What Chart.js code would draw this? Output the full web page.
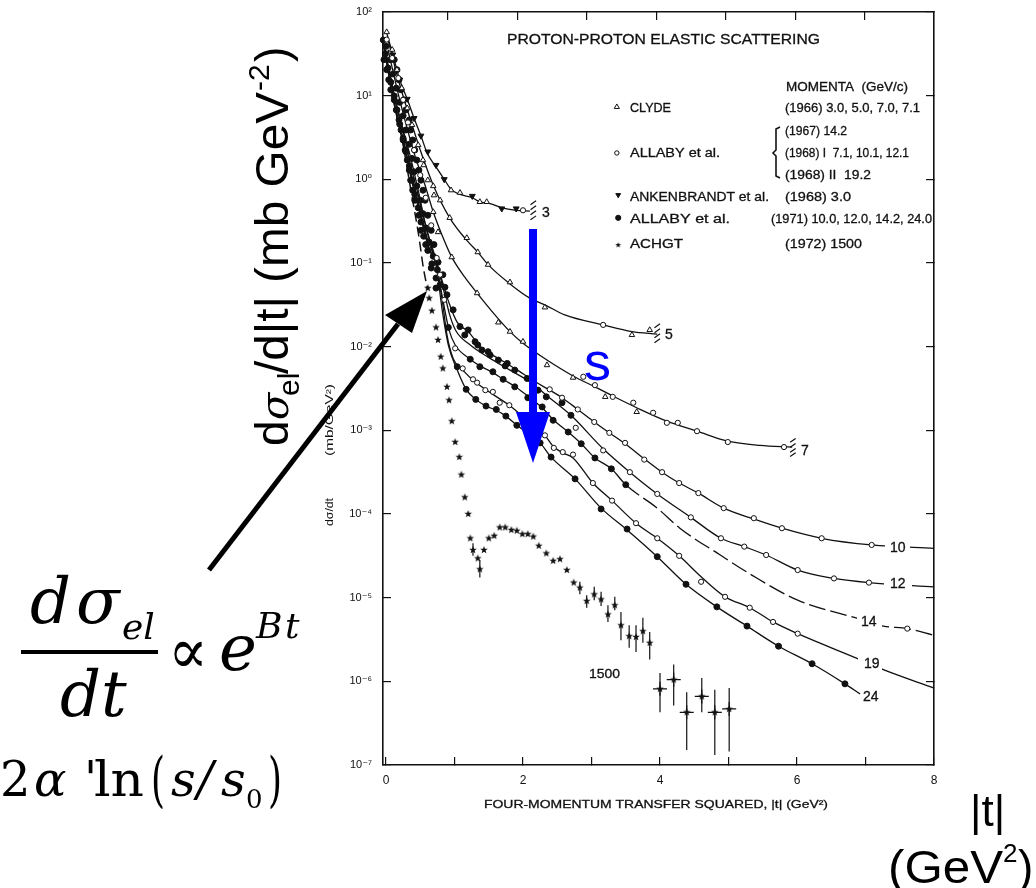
<!-- proton-proton elastic scattering, d-sigma/dt vs |t| -->
<!DOCTYPE html>
<html>
<head>
<meta charset="utf-8">
<style>
  html, body { margin: 0; padding: 0; background: #fff; }
  canvas { display: block; }
</style>
</head>
<body>
<canvas id="chart" width="1036" height="888"></canvas>
<script src="https://cdn.jsdelivr.net/npm/chart.js@4"></script>
<script>
// y values are read as log10(dsigma/dt) off the picture, t in GeV^2
const yDecades = [2, 1, 0, -1, -2, -3, -4, -5, -6, -7];
const xTicks   = [0, 1, 2, 3, 4, 5, 6, 7, 8];
const topTicks = [1, 2, 3, 4, 5, 6, 7];

const curve3T = [0.01,0.10,0.20,0.31,0.41,0.51,0.60,0.72,0.85,0.95,1.08,1.26,1.37,1.52,1.69,1.90,2.10];
const curve3L = [1.75,1.49,1.19,0.96,0.73,0.52,0.315,0.16,0.00,-0.12,-0.18,-0.22,-0.27,-0.29,-0.34,-0.37,-0.38];

const curve5T = [0.03,0.18,0.35,0.50,0.69,0.93,1.18,1.34,1.49,1.81,2.10,2.32,2.61,3.17,3.59,3.96];
const curve5L = [1.665,1.19,0.73,0.35,-0.07,-0.46,-0.73,-0.87,-1.02,-1.25,-1.42,-1.50,-1.62,-1.74,-1.82,-1.85];

const curve7T = [0.03,0.20,0.42,0.57,0.69,0.82,0.96,1.15,1.33,1.59,1.81,2.00,2.35,2.73,3.05,3.31,3.66,4.10,4.54,4.99,5.46,5.93];
const curve7L = [1.55,0.95,0.29,-0.07,-0.39,-0.67,-0.93,-1.17,-1.36,-1.62,-1.82,-1.96,-2.16,-2.35,-2.48,-2.59,-2.73,-2.89,-3.01,-3.13,-3.18,-3.20];

const curve10T = [-0.04,0.09,0.23,0.35,0.47,0.58,0.73,0.83,0.93,1.04,1.20,1.40,1.64,1.88,2.18,2.39,2.57,2.80,3.04,3.26,3.49,3.77,4.03,4.28,4.56,4.93,5.37,5.78,6.36,7.09,8.00];
const curve10L = [1.64,1.13,0.65,0.29,-0.13,-0.55,-0.96,-1.24,-1.50,-1.71,-1.82,-2.02,-2.14,-2.26,-2.42,-2.52,-2.61,-2.75,-2.90,-3.03,-3.16,-3.34,-3.50,-3.63,-3.75,-3.93,-4.06,-4.17,-4.29,-4.37,-4.41];

const curve12T = [-0.03,0.10,0.25,0.36,0.48,0.60,0.73,0.85,0.93,1.02,1.23,1.52,1.81,2.10,2.34,2.70,3.17,3.56,3.96,4.45,4.89,5.23,5.55,6.01,6.54,7.05,8.00];
const curve12L = [1.59,1.04,0.57,0.17,-0.22,-0.63,-0.99,-1.35,-1.62,-1.81,-1.98,-2.14,-2.28,-2.42,-2.58,-2.82,-3.22,-3.50,-3.76,-4.04,-4.29,-4.39,-4.49,-4.67,-4.77,-4.82,-4.87];

const curve14T = [-0.03,0.10,0.25,0.36,0.48,0.60,0.73,0.83,0.92,1.01,1.23,1.37,1.56,1.71,1.91,2.10,2.28,2.45,2.66,2.85,3.05,3.29,3.50,3.96,4.29,4.88,5.34,6.01,6.85,7.26,7.61,8.00];
const curve14L = [1.57,0.98,0.49,0.09,-0.31,-0.70,-1.00,-1.44,-1.80,-1.98,-2.15,-2.23,-2.31,-2.39,-2.49,-2.61,-2.73,-2.88,-3.02,-3.16,-3.33,-3.46,-3.65,-3.93,-4.17,-4.49,-4.73,-5.03,-5.24,-5.34,-5.37,-5.45];

const curve19T = [-0.01,0.12,0.26,0.38,0.50,0.61,0.73,0.82,0.89,0.98,1.12,1.30,1.56,1.80,2.06,2.32,2.44,2.58,2.73,3.02,3.30,3.65,3.96,4.28,4.60,4.95,5.31,5.65,6.01,6.92,7.26,8.00];
const curve19L = [1.55,0.92,0.41,0.02,-0.39,-0.78,-1.01,-1.44,-1.86,-2.14,-2.28,-2.42,-2.57,-2.70,-2.88,-3.06,-3.19,-3.27,-3.33,-3.63,-3.84,-4.11,-4.29,-4.50,-4.75,-4.99,-5.12,-5.29,-5.43,-5.74,-5.86,-6.08];

const curve24T = [-0.01,0.13,0.28,0.39,0.51,0.63,0.73,0.82,0.91,1.04,1.17,1.31,1.46,1.61,1.75,1.91,2.25,2.41,2.76,3.14,3.52,3.96,4.38,4.83,5.27,5.73,6.22,6.70,6.92];
const curve24L = [1.49,0.85,0.33,-0.07,-0.46,-0.84,-1.02,-1.56,-1.98,-2.28,-2.51,-2.63,-2.71,-2.76,-2.83,-2.94,-3.15,-3.32,-3.58,-3.93,-4.19,-4.51,-4.84,-5.11,-5.34,-5.58,-5.79,-6.03,-6.15];

const dashed1500T = [-0.01,0.13,0.25,0.38,0.47,0.55,0.61];
const dashed1500L = [1.55,0.89,0.41,-0.21,-0.63,-1.08,-1.32];

// markers by experiment
const clydeT = [0.01,0.09,0.16,0.23,0.31,0.38,0.47,0.55,0.61,0.70,0.95,1.08,1.37,1.47,0.54,0.69,0.79,0.93,1.18,1.34,1.49,1.81,2.32,3.59,3.85,0.69,0.76,0.96,1.33,1.64,1.81,2.00,2.35,2.73,3.66,3.20];
const clydeL = [1.76,1.55,1.31,1.09,0.85,0.65,0.41,0.17,-0.01,-0.19,-0.13,-0.16,-0.27,-0.27,0.23,-0.08,-0.25,-0.46,-0.70,-0.87,-1.02,-1.23,-1.53,-1.86,-1.80,-0.39,-0.63,-0.93,-1.36,-1.71,-1.82,-1.94,-2.22,-2.37,-2.78,-2.60];

const allabyOpenT = [0.01,0.09,0.18,0.25,0.32,0.41,0.50,0.58,0.66,0.74,0.79,0.85,2.00,3.17,2.88,3.05,3.31,3.61,3.90,4.10,4.26,4.54,4.99,5.81,
  2.39,2.57,2.80,3.04,3.26,3.49,3.77,4.03,4.28,4.56,4.93,5.37,5.78,6.36,7.09,
  3.17,3.56,3.96,4.45,4.89,5.23,5.55,6.01,6.54,7.05,
  1.01,1.12,1.27,1.33,1.45,1.56,1.66,1.80,2.32,2.45,2.58,2.73,3.02,3.30,3.65,3.96,4.28,4.60,4.95,5.31,5.65,6.01,
  7.61,2.77];
const allabyOpenL = [1.67,1.45,1.21,0.95,0.68,0.35,0.05,-0.22,-0.55,-0.94,-1.14,-1.44,-0.37,-1.74,-2.36,-2.46,-2.60,-2.67,-2.79,-2.91,-2.91,-3.01,-3.14,-3.20,
  -2.51,-2.61,-2.75,-2.90,-3.03,-3.15,-3.35,-3.50,-3.63,-3.75,-3.93,-4.05,-4.17,-4.29,-4.37,
  -3.24,-3.50,-3.76,-4.04,-4.29,-4.39,-4.49,-4.67,-4.77,-4.82,
  -2.02,-2.26,-2.39,-2.43,-2.52,-2.54,-2.67,-2.70,-3.06,-3.21,-3.26,-3.29,-3.63,-3.84,-4.11,-4.29,-4.50,-4.81,-4.99,-5.12,-5.29,-5.43,
  -5.37,-2.97];

const ankenT = [0.10,0.20,0.31,0.41,0.51,0.61,0.73,0.85,1.26,1.69,1.90];
const ankenL = [1.49,1.19,0.96,0.73,0.52,0.33,0.17,0.00,-0.20,-0.35,-0.35];

const allaby71T = [-0.04,0,-0.01,0.06,0.03,0.10,0.07,0.15,0.12,0.20,0.16,0.25,0.20,0.29,0.25,0.34,0.29,0.38,0.34,0.41,0.38,0.45,0.42,0.50,0.47,0.54,0.51,0.58,0.55,0.63,0.61,0.69,0.67,0.75,0.73,0.79,0.86,0.89,
  0.98,1.08,1.20,1.30,1.40,1.52,1.64,1.77,1.88,2.06,2.22,
  1.15,1.34,1.49,1.74,2.34,2.57,2.70,
  0.91,1.23,1.37,1.56,1.71,1.88,2.07,2.28,2.44,2.66,2.85,3.05,3.29,3.50,
  1.04,1.17,1.31,1.46,1.61,1.75,1.91,2.25,2.41,2.76,3.14,3.52,3.96,4.38,4.83,5.27,5.73,6.22,6.70];
const allaby71L = [1.665,1.59,1.50,1.43,1.33,1.26,1.16,1.09,0.996,0.92,0.83,0.76,0.66,0.59,0.49,0.42,0.33,0.25,0.16,0.09,-0.01,-0.08,-0.18,-0.25,-0.34,-0.41,-0.51,-0.58,-0.68,-0.75,-0.85,-0.92,-1.01,-1.08,-1.18,-1.26,-1.29,-1.38,
  -1.56,-1.76,-1.80,-1.94,-2.04,-2.10,-2.16,-2.20,-2.28,-2.38,-2.52,
  -1.86,-1.98,-2.06,-2.23,-2.60,-2.67,-2.82,
  -1.77,-2.15,-2.24,-2.30,-2.39,-2.48,-2.61,-2.72,-2.88,-3.02,-3.16,-3.33,-3.46,-3.65,
  -2.24,-2.51,-2.63,-2.71,-2.75,-2.83,-2.94,-3.15,-3.32,-3.58,-3.94,-4.18,-4.51,-4.84,-5.11,-5.34,-5.58,-5.79,-6.03];

// the thick black band of forward points, both edges of it
const bandT = [-0.03,0.12,0.01,0.16,0.04,0.19,0.07,0.22,0.12,0.26,0.15,0.29,0.19,0.34,0.22,0.36,0.25,0.39,0.28,0.42,0.31,0.45,0.34,0.48,0.36,0.51,0.39,0.54,0.42,0.57,0.48,0.61,0.51,0.66,0.58,0.70,0.76,0.66,0.83,0.73];
const bandL = [1.43,1.43,1.31,1.31,1.19,1.19,1.07,1.07,0.95,0.95,0.83,0.83,0.71,0.71,0.59,0.59,0.47,0.47,0.35,0.35,0.23,0.23,0.11,0.11,-0.01,-0.01,-0.13,-0.13,-0.25,-0.25,-0.43,-0.43,-0.61,-0.61,-0.78,-0.78,-0.99,-1.06,-1.14,-1.30];

const achgtT = [0.61,0.63,0.67,0.73,0.76,0.80,0.83,0.89,0.92,0.96,1.01,1.07,1.10,1.15,1.20,1.23,1.27,1.34,1.37,1.43,1.50,1.58,1.66,1.74,1.83,1.91,1.99,2.07,2.15,2.23,2.34,2.44,2.54,2.64,2.74,2.83,2.93,3.04,3.14,3.24,3.34,3.43,3.55,3.65,3.75,3.85];
const achgtL = [-1.30,-1.42,-1.57,-1.77,-1.92,-2.12,-2.26,-2.48,-2.64,-2.89,-3.14,-3.32,-3.53,-3.80,-4.00,-4.29,-4.43,-4.53,-4.66,-4.43,-4.29,-4.26,-4.16,-4.16,-4.19,-4.20,-4.24,-4.24,-4.27,-4.38,-4.47,-4.56,-4.54,-4.67,-4.82,-4.88,-5.04,-4.96,-5.02,-5.20,-5.09,-5.33,-5.46,-5.47,-5.40,-5.54];
const achgtHighT = [4.00,4.20,4.39,4.61,4.80,5.01];
const achgtHighL = [-6.09,-5.98,-6.37,-6.18,-6.37,-6.33];

const errT  = [1.27,1.37,2.83,2.93,3.04,3.14,3.24,3.34,3.43,3.55,3.65,3.75,3.85,4.00,4.20,4.39,4.61,4.80,5.01];
const errHi = [-4.35,-4.55,-4.81,-4.97,-4.87,-4.93,-5.09,-4.99,-5.17,-5.33,-5.33,-5.24,-5.41,-5.90,-5.80,-6.13,-5.96,-6.10,-6.08];
const errLo = [-4.50,-4.76,-4.96,-5.12,-5.03,-5.10,-5.29,-5.15,-5.51,-5.60,-5.65,-5.54,-5.74,-6.37,-6.29,-6.82,-6.37,-6.88,-6.84];

// hatched ends of the 3, 5 and 7 GeV curves
const hatchT = [2.15,2.15,2.15,2.15,3.96,3.96,3.96,3.96,5.94,5.94,5.94,5.94];
const hatchL = [-0.28,-0.34,-0.40,-0.46,-1.75,-1.81,-1.87,-1.93,-3.12,-3.18,-3.24,-3.29];

const pts = (ts, ls) => ts.map((t, i) => ({ x: t, y: Math.pow(10, ls[i]) }));

function starCanvas(r) {
  const c = document.createElement('canvas');
  c.width = c.height = r * 2 + 2;
  const g = c.getContext('2d');
  g.fillStyle = '#111';
  g.beginPath();
  for (let i = 0; i < 10; i++) {
    const rad = i % 2 ? r * 0.42 : r;
    const a = -Math.PI / 2 + i * Math.PI / 5;
    g.lineTo(r + 1 + rad * Math.cos(a), r + 1 + rad * Math.sin(a));
  }
  g.closePath();
  g.fill();
  return c;
}

const INK = '#111';
const curve = (ts, ls, extra) => Object.assign({
  data: pts(ts, ls), showLine: true, pointRadius: 0, borderColor: INK, borderWidth: 1.3,
  cubicInterpolationMode: 'monotone', clip: false
}, extra || {});
const marks = (ts, ls, extra) => Object.assign({
  data: pts(ts, ls), showLine: false, clip: false, borderColor: INK, backgroundColor: INK, borderWidth: 1
}, extra);

const errData = [];
errT.forEach((t, i) => {
  errData.push({ x: t, y: Math.pow(10, errHi[i]) }, { x: t, y: Math.pow(10, errLo[i]) }, { x: t, y: null });
});

const open3 = { pointStyle: 'circle', pointRadius: 2.6, backgroundColor: '#fff' };
const tri = { pointStyle: 'triangle', pointRadius: 3.2, backgroundColor: '#fff' };
const down = { pointStyle: 'triangle', rotation: 180, pointRadius: 3.4 };
const full = { pointStyle: 'circle', pointRadius: 3 };
const star = { pointStyle: starCanvas(4) };

const datasets = [
  // legend keys
  marks([3.37], [0.865], Object.assign({}, tri, { pointRadius: 3 })),
  marks([3.37], [0.315], Object.assign({}, open3, { pointRadius: 2.2 })),
  marks([3.39], [-0.187], Object.assign({}, down, { pointRadius: 2.8 })),
  marks([3.39], [-0.46], Object.assign({}, full, { pointRadius: 2.6 })),
  marks([3.39], [-0.785], { pointStyle: starCanvas(3) }),
  // data markers
  marks(allabyOpenT, allabyOpenL, open3),
  marks(clydeT, clydeL, tri),
  marks(ankenT, ankenL, down),
  marks(allaby71T, allaby71L, full),
  marks(bandT, bandL, full),
  marks(achgtT, achgtL, star),
  marks(achgtHighT, achgtHighL, { pointStyle: 'crossRot', rotation: 45, pointRadius: 7, borderWidth: 1.2 }),
  marks(achgtHighT, achgtHighL, star),
  marks(hatchT, hatchL, { pointStyle: 'line', rotation: -35, pointRadius: 3.4, borderWidth: 1.2 }),
  { data: errData, showLine: true, pointRadius: 0, borderColor: INK, borderWidth: 1.2, spanGaps: false, clip: false },
  // curves
  curve(curve3T, curve3L),
  curve(curve5T, curve5L),
  curve(curve7T, curve7L),
  curve(curve10T, curve10L),
  curve(curve12T, curve12L),
  curve(curve14T, curve14L, { segment: { borderDash: c => c.p0.parsed.x >= 3.5 ? [17, 5] : undefined } }),
  curve(curve19T, curve19L),
  curve(curve24T, curve24L),
  curve(dashed1500T, dashed1500L, { borderDash: [10, 5], borderWidth: 1.5 })
];

const SANS = '"Liberation Sans", "DejaVu Sans", sans-serif';
const SERIF = '"DejaVu Serif", serif';
const sup = { '-': '⁻', 0: '⁰', 1: '¹', 2: '²', 3: '³', 4: '⁴', 5: '⁵', 6: '⁶', 7: '⁷' };

// the scanned text of the figure: text, x, baseline, font size, width
const scanText = [
  ['PROTON-PROTON ELASTIC SCATTERING', 507, 44, 15, 313],
  ['MOMENTA  (GeV/c)', 786, 91, 12.5, 122],
  ['CLYDE', 630, 112, 12.5, 41],
  ['(1966) 3.0, 5.0, 7.0, 7.1', 785, 112, 12.5, 135],
  ['(1967) 14.2', 785, 135, 12.5, 62],
  ['(1968) I  7.1, 10.1, 12.1', 785, 157, 12.5, 124],
  ['(1968) II  19.2', 785, 179, 12.5, 86],
  ['ALLABY et al.', 630, 157, 12.5, 90],
  ['ANKENBRANDT et al.', 630, 201, 12.5, 139],
  ['(1968) 3.0', 785, 201, 12.5, 66],
  ['ALLABY et al.', 630, 223, 12.5, 100],
  ['(1971) 10.0, 12.0, 14.2, 24.0', 771, 223, 12.5, 161],
  ['ACHGT', 630, 248, 12.5, 53],
  ['(1972) 1500', 785, 248, 12.5, 77],
  ['FOUR-MOMENTUM TRANSFER SQUARED, |t| (GeV²)', 484, 808, 11.5, 344],
  ['1500', 589, 678, 12.5, 31],
  ['3', 542, 217, 14],
  ['5', 665, 339, 14],
  ['7', 801, 455, 14]
];
// labels that interrupt the line they sit on
const curveLabels = [
  ['10', 890, 552, 14, 885, 910],
  ['12', 890, 588, 14, 884, 912],
  ['14', 861, 626, 14, 857, 882],
  ['19', 864, 668, 14, 858, 882],
  ['24', 863, 701, 14, 861, 882]
];

function put(ctx, text, x, y, font, width, color, stroke) {
  ctx.save();
  ctx.font = font;
  ctx.fillStyle = color || INK;
  ctx.textAlign = 'left';
  ctx.textBaseline = 'alphabetic';
  ctx.translate(x, y);
  if (width) ctx.scale(width / ctx.measureText(text).width, 1);
  ctx.fillText(text, 0, 0);
  if (stroke) {
    ctx.strokeStyle = color || INK;
    ctx.lineWidth = stroke;
    ctx.strokeText(text, 0, 0);
  }
  ctx.restore();
}

function polygon(ctx, p, color) {
  ctx.fillStyle = color;
  ctx.beginPath();
  p.forEach(q => ctx.lineTo(q[0], q[1]));
  ctx.closePath();
  ctx.fill();
}

const overlay = {
  id: 'overlay',
  afterDraw(chart) {
    const ctx = chart.ctx;
    ctx.save();

    curveLabels.forEach(l => {
      ctx.fillStyle = '#fff';
      ctx.fillRect(l[4], l[2] - 12, l[5] - l[4], 15);
      put(ctx, l[0], l[1], l[2], l[3] + 'px ' + SANS, null, INK, 0.3);
    });
    scanText.forEach(s => put(ctx, s[0], s[1], s[2], s[3] + 'px ' + SANS, s[4], INK, 0.3));

    // bracket in front of the Allaby years
    ctx.strokeStyle = INK;
    ctx.lineWidth = 1.6;
    ctx.beginPath();
    ctx.moveTo(780, 127); ctx.lineTo(776, 129); ctx.lineTo(776, 150); ctx.lineTo(773, 153);
    ctx.lineTo(776, 156); ctx.lineTo(776, 176); ctx.lineTo(780, 178);
    ctx.stroke();

    // small rotated axis note of the scan
    ctx.save();
    ctx.translate(333, 456);
    ctx.rotate(-Math.PI / 2);
    put(ctx, '(mb/GeV²)', 0, 0, '10px ' + SANS, 72);
    put(ctx, 'dσ/dt', -70, 0, '10px ' + SANS, 28);
    ctx.restore();

    // black arrow to the forward peak
    ctx.strokeStyle = '#000';
    ctx.lineWidth = 5;
    ctx.beginPath();
    ctx.moveTo(209, 570);
    ctx.lineTo(398, 324);
    ctx.stroke();
    polygon(ctx, [[427, 291], [385, 315], [412, 333]], '#000');

    // blue arrow for growing s
    ctx.fillStyle = '#0000ff';
    ctx.fillRect(529, 229, 8, 184);
    polygon(ctx, [[516, 412], [550, 412], [533, 463]], '#0000ff');
    put(ctx, 's', 584, 380, '54px ' + SANS, null, '#0000ff');

    // big y title, written bottom to top
    ctx.save();
    ctx.translate(288, 0);
    ctx.rotate(-Math.PI / 2);
    put(ctx, 'd', -446, 0, '46px ' + SANS, null, '#000');
    put(ctx, 'σ', -420, 0, 'italic 40px ' + SERIF, null, '#000');
    put(ctx, 'el', -396, 11, '30px ' + SANS, null, '#000');
    put(ctx, '/d|t| (mb GeV', -374, 0, '46px ' + SANS, 282, '#000');
    put(ctx, '-2', -91, -19, '30px ' + SANS, null, '#000');
    put(ctx, ')', -62, 0, '46px ' + SANS, null, '#000');
    ctx.restore();

    // bottom right axis name
    put(ctx, '|t|', 970, 826, '44px ' + SANS, null, '#000');
    put(ctx, '(GeV', 888, 883, '46px ' + SANS, 115, '#000');
    put(ctx, '2', 1003, 862, '26px ' + SANS, null, '#000');
    put(ctx, ')', 1018, 883, '46px ' + SANS, null, '#000');

    // formula
    const big = 'italic 64px ' + SERIF, small = 'italic 36px ' + SERIF;
    put(ctx, 'd', 30, 623, big, null, '#000');
    put(ctx, 'σ', 76, 623, big, null, '#000');
    put(ctx, 'el', 122, 639, small, null, '#000');
    ctx.fillStyle = '#000';
    ctx.fillRect(21, 650, 137, 4);
    put(ctx, 'dt', 60, 716, big, null, '#000');
    put(ctx, '∝', 168, 673, '64px ' + SERIF, 40, '#000');
    put(ctx, 'e', 219, 670, big, null, '#000');
    put(ctx, 'B', 256, 638, small, null, '#000');
    put(ctx, 't', 285, 638, small, null, '#000');

    const mid = '48px ' + SERIF, midI = 'italic 48px ' + SERIF;
    put(ctx, '2', 0, 796, mid, null, '#000');
    put(ctx, 'α', 34, 796, midI, null, '#000');
    put(ctx, "'", 84, 796, mid, null, '#000');
    put(ctx, 'ln', 94, 796, mid, 50, '#000');
    put(ctx, '(', 151, 800, '60px ' + SERIF, 14, '#000');
    put(ctx, 's', 171, 796, midI, null, '#000');
    put(ctx, '/', 197, 796, midI, null, '#000');
    put(ctx, 's', 221, 796, midI, null, '#000');
    put(ctx, '0', 246, 808, '26px ' + SERIF, null, '#000');
    put(ctx, ')', 268, 800, '60px ' + SERIF, 14, '#000');

    ctx.restore();
  }
};

const axisGrid = { drawOnChartArea: false, drawTicks: true, tickLength: -8, color: INK, lineWidth: 1.2 };
const axisBorder = { display: true, color: INK, width: 1.6 };

// fixed plot box, so the label padding cannot push the frame around
const fixBox = (s, size) => {
  if (s.isHorizontal()) s.height = size; else s.width = size;
  s.paddingTop = s.paddingBottom = s.paddingLeft = s.paddingRight = 0;
};

new Chart(document.getElementById('chart'), {
  type: 'scatter',
  data: { datasets },
  plugins: [overlay],
  options: {
    responsive: false,
    animation: false,
    devicePixelRatio: 1,
    layout: { padding: 0 },
    plugins: { legend: { display: false }, tooltip: { enabled: false } },
    scales: {
      x: {
        type: 'linear', position: 'bottom', min: -0.0438, max: 8, bounds: 'data',
        grid: axisGrid, border: axisBorder,
        afterBuildTicks: s => { s.ticks = xTicks.map(v => ({ value: v })); },
        afterFit: s => fixBox(s, 123),
        ticks: {
          autoSkip: false, maxRotation: 0, padding: 16, color: INK,
          font: { family: SANS, size: 12 },
          callback: v => (v % 2 === 0 ? String(v) : '')
        }
      },
      xTop: {
        type: 'linear', position: 'top', min: 0.066, max: 8, bounds: 'data',
        grid: axisGrid, border: axisBorder,
        afterBuildTicks: s => { s.ticks = topTicks.map(v => ({ value: v })); },
        afterFit: s => fixBox(s, 12),
        ticks: { display: false }
      },
      y: {
        type: 'logarithmic', position: 'left', min: 1e-7, max: 100, bounds: 'data',
        grid: axisGrid, border: axisBorder,
        afterBuildTicks: s => { s.ticks = yDecades.map(e => ({ value: Math.pow(10, e) })); },
        afterFit: s => fixBox(s, 383),
        ticks: {
          autoSkip: false, padding: 19, color: INK,
          font: { family: SANS, size: 11 },
          callback: v => '10' + String(Math.round(Math.log10(v))).split('').map(c => sup[c]).join('')
        }
      },
      yRight: {
        type: 'logarithmic', position: 'right', min: 1e-7, max: 100, bounds: 'data',
        grid: axisGrid, border: axisBorder,
        afterBuildTicks: s => { s.ticks = yDecades.map(e => ({ value: Math.pow(10, e) })); },
        afterFit: s => fixBox(s, 102),
        ticks: { display: false }
      }
    }
  }
});
</script>
</body>
</html>
